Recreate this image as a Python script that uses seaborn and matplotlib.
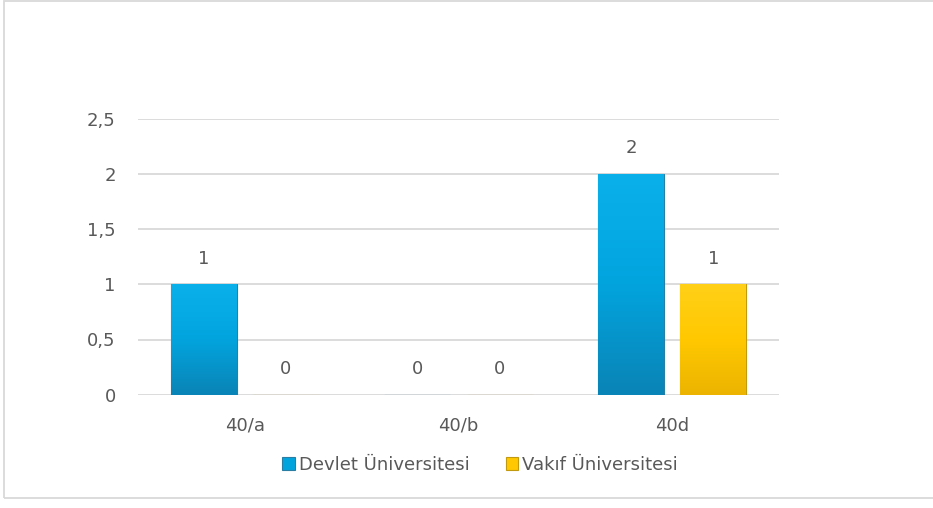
import matplotlib
matplotlib.use("Agg")
import matplotlib.pyplot as plt
import numpy as np
import pandas as pd
import seaborn as sns
from matplotlib.colors import LinearSegmentedColormap
from matplotlib.patches import Rectangle

categories = ["40/a", "40/b", "40d"]
groups = ["Devlet Üniversitesi", "Vakıf Üniversitesi"]
devlet = [1, 0, 2]
vakif = [0, 0, 1]
yticks = [0, 0.5, 1, 1.5, 2, 2.5]
ytick_labels = ["0", "0,5", "1", "1,5", "2", "2,5"]

df = pd.DataFrame({
    "kategori": categories * 2,
    "deger": devlet + vakif,
    "grup": [groups[0]] * 3 + [groups[1]] * 3,
})

colors = {groups[0]: "#00a6e0", groups[1]: "#ffc800"}
gradients = {
    groups[0]: ["#0ab0ea", "#02a4de", "#0a84b6"],
    groups[1]: ["#ffd018", "#ffc800", "#ecb400"],
}
edges = {groups[0]: "#2a7ea3", groups[1]: "#c29a10"}
text_color = "#595959"

sns.set_theme(style="white")
plt.rcParams["font.family"] = ["DejaVu Sans"]

fig = plt.figure(figsize=(9.33, 5.08), dpi=100)
ax = fig.add_axes([138 / 933, 1 - 394.7 / 508, 641 / 933, 276 / 508])

sns.barplot(data=df, x="kategori", y="deger", hue="grup", hue_order=groups,
            palette=colors, width=0.77, gap=0.2, ax=ax, legend=False,
            saturation=1, zorder=3)

# vertical gradient inside each bar
for container, g in zip(ax.containers, groups):
    cmap = LinearSegmentedColormap.from_list(g, gradients[g][::-1])
    for bar in container:
        bar.set_edgecolor(edges[g])
        bar.set_linewidth(0.8)
        h = bar.get_height()
        if h <= 0:
            continue
        x0 = bar.get_x()
        w = bar.get_width()
        grad = np.linspace(0, 1, 100).reshape(-1, 1)
        im = ax.imshow(grad, extent=[x0, x0 + w, 0, h], origin="lower",
                       cmap=cmap, aspect="auto", zorder=3.5)
        im.set_clip_path(bar)
    ax.bar_label(container, labels=[f"{v:g}" for v in container.datavalues],
                 padding=12, fontsize=13, color=text_color)

ax.set_xlim(-0.5, 2.5)
ax.set_ylim(0, 2.5)
ax.set_yticks(yticks)
ax.set_yticklabels(ytick_labels)
ax.yaxis.grid(True, color="#d9d9d9", linewidth=1.3, zorder=0)
ax.set_axisbelow(True)
for s in ax.spines.values():
    s.set_visible(False)
ax.tick_params(axis="y", length=0, pad=16, labelsize=13, labelcolor=text_color)
ax.tick_params(axis="x", length=0, pad=16, labelsize=13, labelcolor=text_color)
ax.set_xlabel("")
ax.set_ylabel("")

handles = [Rectangle((0, 0), 1, 1, facecolor=gradients[g][1], edgecolor=edges[g], linewidth=0.8)
           for g in groups]
fig.legend(handles, groups, loc="center", bbox_to_anchor=(480 / 933, 1 - 465 / 508),
           ncol=2, frameon=False, fontsize=13, labelcolor=text_color,
           handlelength=0.7, handleheight=0.7, handletextpad=0.2, columnspacing=2.0)

# outer chart frame (right edge runs past the image)
fig.patches.append(Rectangle((4 / 933, 10 / 508), 935 / 933, 497 / 508, transform=fig.transFigure,
                             fill=False, edgecolor="#d9d9d9", linewidth=1.3))

fig.savefig("out.png", dpi=100, facecolor="white")
